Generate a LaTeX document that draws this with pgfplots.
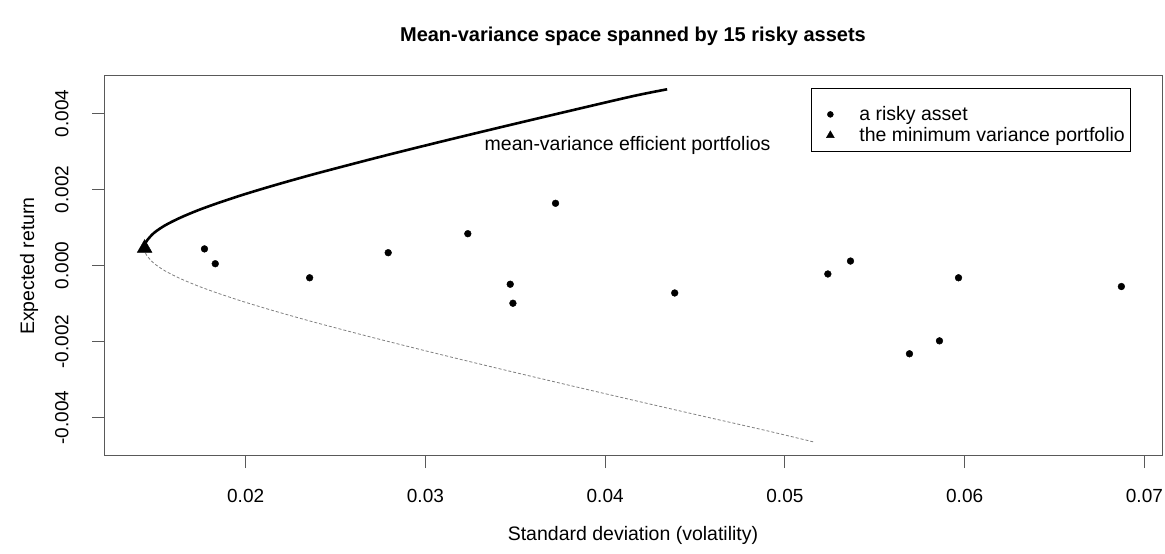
\documentclass[border=0pt]{standalone}
\usepackage{fontspec}
\setmainfont{Liberation Sans}
\usepackage{pgfplots}
\pgfplotsset{compat=1.18}

% risky assets: standard deviation, expected return
\pgfplotstableread{
sd      mu
0.01771  0.00044
0.01831  0.00005
0.02356 -0.00032
0.02793  0.00034
0.03236  0.00084
0.03472 -0.00049
0.03487 -0.00099
0.03724  0.00164
0.04387 -0.00072
0.05239 -0.00022
0.05365  0.00012
0.05693 -0.00232
0.05860 -0.00198
0.05966 -0.00032
0.06872 -0.00055
}\assettab

% upper (efficient) branch of the frontier
\pgfplotstableread{
sd      mu
0.01438 0.00046
0.01441 0.00056
0.01451 0.00066
0.01490 0.00086
0.01552 0.00106
0.01636 0.00126
0.01737 0.00146
0.01854 0.00166
0.01982 0.00186
0.02121 0.00206
0.02268 0.00226
0.02422 0.00246
0.02746 0.00286
0.03085 0.00326
0.03435 0.00366
0.03792 0.00406
0.04155 0.00446
0.04345 0.00464
}\upperbranch

% lower (inefficient) branch of the frontier
\pgfplotstableread{
sd      mu
0.01438  0.00046
0.01441  0.00036
0.01451  0.00026
0.01490  0.00006
0.01552 -0.00014
0.01636 -0.00034
0.01737 -0.00054
0.01854 -0.00074
0.01982 -0.00094
0.02121 -0.00114
0.02268 -0.00134
0.02422 -0.00154
0.02746 -0.00194
0.03085 -0.00234
0.03435 -0.00274
0.03792 -0.00314
0.04155 -0.00354
0.04523 -0.00394
0.04895 -0.00434
0.05160 -0.00464
}\lowerbranch

\newcommand{\txt}{\fontsize{19.5}{23}\selectfont}

\begin{document}
\begin{tikzpicture}[x=1pt,y=1pt]
\path[use as bounding box] (0,0) rectangle (1165,554);
\begin{axis}[
  at={(104pt,98pt)}, anchor=south west,
  scale only axis, width=1058pt, height=380pt,
  xmin=0.01212, xmax=0.07098, ymin=-0.00501, ymax=0.00499,
  axis line style={draw=black!65, line width=1pt},
  xtick={0.02,0.03,0.04,0.05,0.06,0.07},
  ytick={-0.004,-0.002,0,0.002,0.004},
  xtick pos=left, ytick pos=left,
  tick align=outside, major tick length=12pt,
  tick style={draw=black!65, line width=1pt},
  scaled ticks=false,
  /pgf/number format/assume math mode=true,
  tick label style={font=\fontsize{19}{23}\selectfont, text=black},
  xticklabel style={/pgf/number format/fixed, /pgf/number format/precision=2, yshift=-18pt},
  yticklabel style={/pgf/number format/fixed, /pgf/number format/fixed zerofill,
    /pgf/number format/precision=3, xshift=-20pt, rotate=90, anchor=south},
  xlabel={Standard deviation (volatility)},
  ylabel={Expected return},
  label style={font=\txt, text=black},
  xlabel style={at={([yshift=-79pt]axis description cs:0.5,0)}, anchor=center},
  ylabel style={at={([xshift=-75pt]axis description cs:0,0.5)}, anchor=center, rotate=0},
  title={Mean-variance space spanned by 15 risky assets},
  title style={at={([yshift=34pt]axis description cs:0.5,1)}, anchor=center,
    font=\bfseries\fontsize{20}{24}\selectfont},
  legend style={at={(0.6682,0.9684)}, anchor=north west, draw=black, line width=0.8pt,
    fill=white, font=\txt, inner xsep=6pt, inner ysep=6pt, row sep=0pt,
    column sep=14pt, nodes={inner sep=0pt}},
  legend cell align=left,
]
\addplot[draw=black!50, line width=0.8pt, dash pattern=on 3pt off 2pt, smooth, forget plot]
  table[x=sd, y=mu] {\lowerbranch};
\addplot[draw=black, line width=2.6pt, smooth, forget plot]
  table[x=sd, y=mu] {\upperbranch};
\addplot[only marks, mark=*, mark size=3.4pt, fill=black, draw=black, forget plot]
  table[x=sd, y=mu] {\assettab};
\addplot[only marks, mark=triangle*, mark size=8.5pt, fill=black, draw=black, forget plot]
  coordinates {(0.01438,0.00046)};
\addlegendimage{legend image code/.code={
    \path[draw=none, fill=none] (-13pt,-10.5pt) rectangle (15pt,20pt);
    \draw[draw=black, fill=black, line width=0.4pt, mark size=3pt] plot[mark=*] coordinates {(0pt,0pt)};}}
\addlegendentry{a risky asset}
\addlegendimage{legend image code/.code={
    \path[draw=none, fill=none] (-13pt,-10pt) rectangle (15pt,10.5pt);
    \draw[draw=black, fill=black, line width=0.4pt, mark size=4.6pt] plot[mark=triangle*] coordinates {(0pt,0pt)};}}
\addlegendentry{the minimum variance portfolio}
\node[anchor=west, font=\txt, text=black, inner sep=0pt] at (axis cs:0.03329,0.00315)
  {mean-variance efficient portfolios};
\end{axis}
\end{tikzpicture}
\end{document}
